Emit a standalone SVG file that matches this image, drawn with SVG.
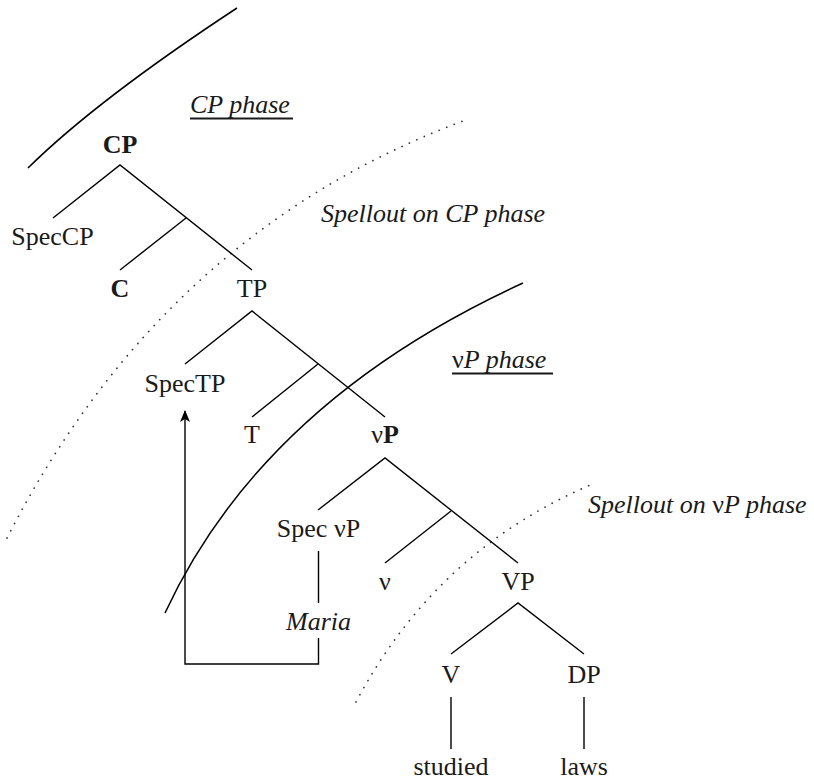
<svg xmlns="http://www.w3.org/2000/svg" width="814" height="780" viewBox="0 0 814 780">
<defs>
<style>
text{font-family:"Liberation Serif","Times New Roman",serif;font-size:26px;fill:#1a1a1a}
.n{text-anchor:middle}
.b{font-weight:bold}
.i{font-style:italic}
.up{font-style:normal}
.e{stroke:#000;stroke-width:1.4;fill:none}
.arc{stroke:#000;stroke-width:1.5;fill:none}
.dot{stroke:#333;stroke-width:1.7;fill:none;stroke-linecap:round;stroke-dasharray:0.1 8}
.ul{stroke:#1a1a1a;stroke-width:2}
</style>
<marker id="ah" viewBox="0 0 12 10" refX="11" refY="5" markerWidth="12" markerHeight="10" markerUnits="userSpaceOnUse" orient="auto">
<path d="M0,0 L12,5 L0,10 L3,5 Z" fill="#000"/>
</marker>
</defs>

<g id="phase-boundaries">
<path class="arc" d="M28,168 Q97,100 237,8"/>
<path class="dot" d="M7,538 Q163,233 463,121"/>
<path class="arc" d="M165,613 Q263,402 523,283"/>
<path class="dot" d="M356,702 Q437,549 595,483"/>
</g>

<g id="connectors">
<path class="e" d="M53,218 L120,165 L252,270"/>
<path class="e" d="M186,218 L120,270"/>
<path class="e" d="M185,364 L252,311 L385,417"/>
<path class="e" d="M318,364 L252,417"/>
<path class="e" d="M318,510 L385,458 L518,563"/>
<path class="e" d="M451,511 L385,563"/>
<path class="e" d="M318.5,551 L318.5,603"/>
<path class="e" d="M451,654 L518,603 L584,654"/>
<path class="e" d="M451,697 L451,749"/>
<path class="e" d="M584,697 L584,749"/>
<path class="e" d="M318.5,638 L318.5,664 L185,664 L185,411" marker-end="url(#ah)"/>
</g>

<g id="label-cp-phase">
<text x="190" y="113" class="i">CP phase</text>
<line class="ul" x1="190" y1="118.5" x2="293" y2="118.5"/>
</g>
<g id="label-spellout-cp">
<text x="321" y="222" class="i">Spellout on CP phase</text>
</g>
<g id="label-vp-phase">
<text x="452" y="368" class="i"><tspan class="up">ν</tspan>P phase</text>
<line class="ul" x1="452" y1="373.5" x2="553" y2="373.5"/>
</g>
<g id="label-spellout-vp">
<text x="588" y="513" class="i">Spellout on <tspan class="up">ν</tspan>P phase</text>
</g>

<g id="node-CP"><text x="120" y="153" class="n b">CP</text></g>
<g id="node-SpecCP"><text x="52.5" y="245" class="n">SpecCP</text></g>
<g id="node-C"><text x="120" y="297" class="n b">C</text></g>
<g id="node-TP"><text x="252" y="297" class="n">TP</text></g>
<g id="node-SpecTP"><text x="185" y="392" class="n">SpecTP</text></g>
<g id="node-T"><text x="252" y="443" class="n">T</text></g>
<g id="node-vP"><text x="385" y="443" class="n">ν<tspan class="b">P</tspan></text></g>
<g id="node-SpecvP"><text x="318.5" y="537" class="n">Spec νP</text></g>
<g id="node-v"><text x="385" y="590" class="n">ν</text></g>
<g id="node-VP"><text x="518" y="590" class="n">VP</text></g>
<g id="node-Maria"><text x="318.5" y="630" class="n i">Maria</text></g>
<g id="node-V"><text x="451" y="683" class="n">V</text></g>
<g id="node-DP"><text x="584" y="683" class="n">DP</text></g>
<g id="node-studied"><text x="451" y="775" class="n">studied</text></g>
<g id="node-laws"><text x="584" y="775" class="n">laws</text></g>
</svg>
